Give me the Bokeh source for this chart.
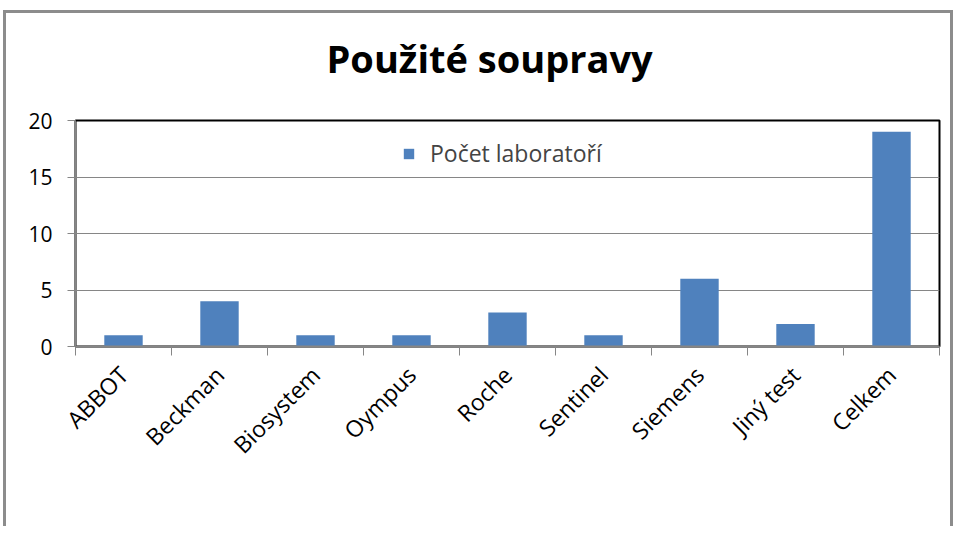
import math
from bokeh.plotting import figure
from bokeh.models import FixedTicker, Range1d, Legend, LegendItem, Title
from bokeh.embed import file_html
from bokeh.resources import INLINE

categories = ["ABBOT", "Beckman", "Biosystem", "Oympus", "Roche", "Sentinel", "Siemens", "Jiný test", "Celkem"]
values = [1, 4, 1, 1, 3, 1, 6, 2, 19]
y_ticks = [0, 5, 10, 15, 20]
series_name = "Počet laboratoří"
title_text = "Použité soupravy"

n = len(categories)
centers = [i + 0.5 for i in range(n)]
bounds = [float(i) for i in range(n + 1)]

p = figure(frame_width=864, frame_height=226, output_backend="svg", toolbar_location=None,
           x_range=Range1d(0, n), y_range=Range1d(0, 20),
           min_border_left=69, min_border_right=11, min_border_top=0, min_border_bottom=180)
p.styles = {"margin-left": "3px", "margin-top": "10px",
            "border-top": "3px solid #8c8c8c", "border-left": "3px solid #8c8c8c",
            "border-right": "3px solid #8c8c8c"}

p.title.text = title_text
p.title.text_font = "Open Sans"
p.title.text_font_style = "bold"
p.title.text_font_size = "38px"
p.title.text_color = "black"
p.title.align = "left"
p.title.offset = 251
p.title.standoff = 33

# spacer between title and plot area
p.add_layout(Title(text=" ", text_font_size="10px", standoff=7), "above")

r = p.vbar(x=centers, top=values, width=0.4, bottom=0, fill_color="#4F81BD", line_color=None)

p.outline_line_color = "black"
p.outline_line_width = 2
p.background_fill_color = "white"
p.border_fill_color = "white"

# y axis
p.yaxis.ticker = FixedTicker(ticks=y_ticks)
p.yaxis.axis_line_color = "#868686"
p.yaxis.major_tick_line_color = "#868686"
p.yaxis.major_tick_out = 8
p.yaxis.major_tick_in = 0
p.yaxis.minor_tick_line_color = None
p.yaxis.major_label_text_font = "Open Sans"
p.yaxis.major_label_text_font_size = "21px"
p.yaxis.major_label_text_color = "black"
p.yaxis.major_label_standoff = 15

# x axis: labels at centers, ticks at boundaries (minor)
p.xaxis.ticker = FixedTicker(ticks=centers, minor_ticks=bounds)
p.xaxis.major_label_overrides = {c: lab for c, lab in zip(centers, categories)}
p.xaxis.major_tick_line_color = None
p.xaxis.minor_tick_line_color = "#868686"
p.xaxis.minor_tick_out = 9
p.xaxis.minor_tick_in = 0
p.xaxis.axis_line_color = "#868686"
p.xaxis.axis_line_width = 2
p.xaxis.major_label_orientation = math.pi / 4
p.xaxis.major_label_text_font = "Open Sans"
p.xaxis.major_label_text_font_size = "23px"
p.xaxis.major_label_text_color = "black"
p.xaxis.major_label_standoff = 15

p.xgrid.grid_line_color = None
p.ygrid.grid_line_color = "#868686"
p.ygrid.grid_line_width = 1

# legend kept inside the plot area (empty upper region) so that it stays visible
legend = Legend(items=[LegendItem(label=series_name, renderers=[r])],
                orientation="horizontal", location=(327, 177))
legend.label_text_font = "Open Sans"
legend.label_text_font_size = "23px"
legend.label_standoff = 15
legend.glyph_width = 13
legend.glyph_height = 13
legend.padding = 0
legend.margin = 0
legend.border_line_color = None
legend.background_fill_alpha = 0
p.add_layout(legend, "center")

open("out.html", "w").write(file_html(p, INLINE))
